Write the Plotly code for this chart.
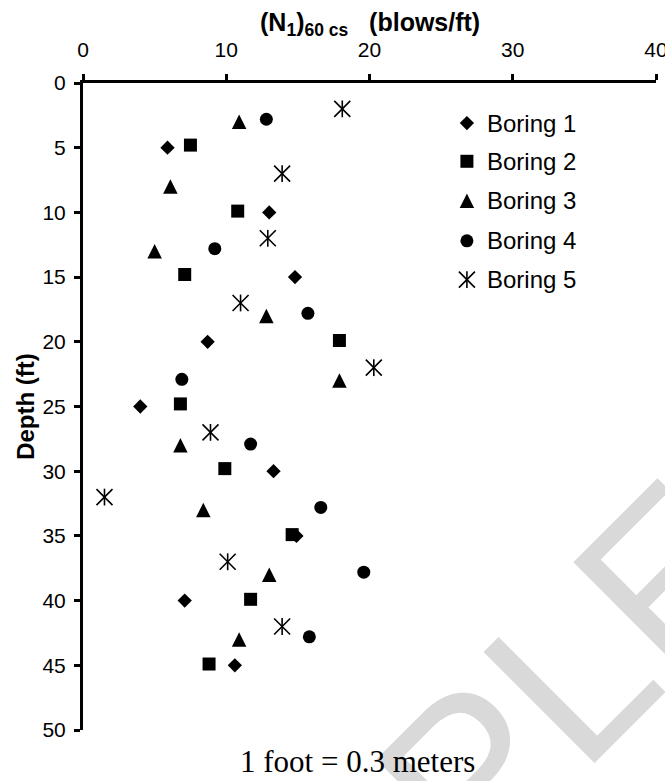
import plotly.graph_objects as go

# (N1)60cs blow counts versus depth for five borings
b1_depth = [5, 10, 15, 20, 25, 30, 35, 40, 45]
b1_n = [5.9, 13.0, 14.8, 8.7, 4.0, 13.3, 14.9, 7.1, 10.6]

b2_depth = [4.8, 9.9, 14.8, 19.9, 24.8, 29.8, 34.9, 39.9, 44.9]
b2_n = [7.5, 10.8, 7.1, 17.9, 6.8, 9.9, 14.6, 11.7, 8.8]

b3_depth = [3, 8, 13, 18, 23, 28, 33, 38, 43]
b3_n = [10.9, 6.1, 5.0, 12.8, 17.9, 6.8, 8.4, 13.0, 10.9]

b4_depth = [2.8, 12.8, 17.8, 22.9, 27.9, 32.8, 37.8, 42.8]
b4_n = [12.8, 9.2, 15.7, 6.9, 11.7, 16.6, 19.6, 15.8]

b5_depth = [2, 7, 12, 17, 22, 27, 32, 37, 42]
b5_n = [18.1, 13.9, 12.9, 11.0, 20.3, 8.9, 1.5, 10.1, 13.9]

series_names = ["Boring 1", "Boring 2", "Boring 3", "Boring 4", "Boring 5"]
x_ticks = [0, 10, 20, 30, 40]
y_ticks = [0, 5, 10, 15, 20, 25, 30, 35, 40, 45, 50]

SANS = "Liberation Sans, Arial, sans-serif"
SERIF = "Liberation Serif, Times New Roman, serif"
BLACK = "#000000"

# marker styles (the triangle is an arrow flipped and recentred so it is as tall as wide)
styles = [
    dict(symbol="diamond", size=11, color=BLACK, line=dict(width=0)),
    dict(symbol="square", size=13, color=BLACK, line=dict(width=0)),
    dict(symbol="arrow-down", size=14.5, angle=180, standoff=7.25, color=BLACK, line=dict(width=0)),
    dict(symbol="circle", size=13, color=BLACK, line=dict(width=0)),
]
star_x = dict(symbol="x-thin-open", size=16, color=BLACK, line=dict(width=1.6, color=BLACK))
star_bar = dict(symbol="line-ns-open", size=12, color=BLACK, line=dict(width=1.6, color=BLACK))

fig = go.Figure()
data = [(b1_n, b1_depth), (b2_n, b2_depth), (b3_n, b3_depth), (b4_n, b4_depth)]
for (xs, ys), st, name in zip(data, styles, series_names):
    fig.add_trace(go.Scatter(x=xs, y=ys, mode="markers", name=name, marker=st,
                             showlegend=False, hoverinfo="x+y+name"))
fig.add_trace(go.Scatter(x=b5_n, y=b5_depth, mode="markers", name=series_names[4],
                         marker=star_x, showlegend=False))
fig.add_trace(go.Scatter(x=b5_n, y=b5_depth, mode="markers", name=series_names[4],
                         marker=star_bar, showlegend=False, hoverinfo="skip"))

# key drawn on an overlay axis spanning the plot area (0..1 in both directions)
key_x = 0.670
key_text_x = 0.702
key_rows = [0.062, 0.121, 0.182, 0.244, 0.304]
for st, row in zip(styles, key_rows[:4]):
    fig.add_trace(go.Scatter(x=[key_x], y=[row], xaxis="x2", yaxis="y2", mode="markers",
                             marker=st, showlegend=False, hoverinfo="skip"))
for st in (star_x, star_bar):
    fig.add_trace(go.Scatter(x=[key_x], y=[key_rows[4]], xaxis="x2", yaxis="y2",
                             mode="markers", marker=st, showlegend=False, hoverinfo="skip"))

annotations = [
    # faint diagonal watermark lettering
    dict(text="SAMPLE", xref="paper", yref="paper", x=0.546, y=-0.1855,
         xanchor="center", yanchor="middle", textangle=-45, showarrow=False,
         font=dict(family=SANS, size=228, color="#d9d9d9")),
    # top axis title
    dict(text="<b>(N<sub>1</sub>)<sub>60 cs</sub>&nbsp;&nbsp; (blows/ft)</b>",
         xref="paper", yref="paper", x=0.5, y=1.0915, xanchor="center", yanchor="middle",
         showarrow=False, font=dict(family=SANS, size=25, color=BLACK)),
]
for name, row in zip(series_names, key_rows):
    annotations.append(dict(text=name, xref="x2", yref="y2", x=key_text_x, y=row,
                            xanchor="left", yanchor="middle", showarrow=False,
                            font=dict(family=SANS, size=24, color=BLACK)))
annotations.append(dict(text="1 foot = 0.3 meters", xref="paper", yref="paper",
                        x=0.479, y=-0.049, xanchor="center", yanchor="middle",
                        showarrow=False, font=dict(family=SERIF, size=31, color=BLACK)))

fig.update_layout(
    width=665, height=781,
    margin=dict(l=83, r=9, t=83, b=51, autoexpand=False),
    paper_bgcolor="white", plot_bgcolor="white",
    showlegend=False,
    annotations=annotations,
    xaxis=dict(
        range=[0, 40], side="top", tickvals=x_ticks, automargin=False,
        showline=True, linecolor=BLACK, linewidth=3,
        ticks="outside", ticklen=6, tickwidth=2.5, tickcolor=BLACK,
        showgrid=False, zeroline=False, ticklabelstandoff=9,
        ticklabeloverflow="allow",
        tickfont=dict(family=SANS, size=21, color=BLACK),
    ),
    yaxis=dict(
        range=[50, 0], tickvals=y_ticks, automargin=False,
        showline=True, linecolor=BLACK, linewidth=3,
        ticks="outside", ticklen=6, tickwidth=2.5, tickcolor=BLACK,
        showgrid=False, zeroline=False, ticklabelstandoff=4,
        tickfont=dict(family=SANS, size=21, color=BLACK),
        title=dict(text="<b>Depth (ft)</b>",
                   font=dict(family=SANS, size=24, color=BLACK), standoff=2),
    ),
    xaxis2=dict(overlaying="x", range=[0, 1], visible=False, fixedrange=True),
    yaxis2=dict(overlaying="y", range=[1, 0], visible=False, fixedrange=True),
)

fig.write_html("out.html")
